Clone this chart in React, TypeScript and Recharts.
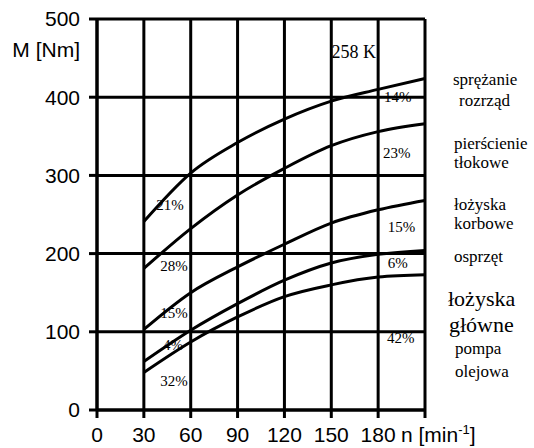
import React from 'react';
import { LineChart, Line, XAxis, YAxis, CartesianGrid, ReferenceDot } from 'recharts';

// rotational speed n [min-1]
const rpm = [30, 60, 90, 120, 150, 180, 210];
// friction torque M [Nm] per component (cumulative curves)
const sprezanieRozrzad = [241, 303, 342, 372, 395, 410, 424];
const pierscienieTlokowe = [181, 232, 275, 309, 338, 356, 366];
const lozyskaKorbowe = [103, 150, 183, 212, 239, 256, 268];
const osprzet = [62, 102, 136, 166, 188, 199, 204];
const lozyskaGlowne = [48, 87, 119, 145, 160, 170, 173];

const xTicks = [0, 30, 60, 90, 120, 150, 180, 210];
const yTicks = [0, 100, 200, 300, 400, 500];

// percentage labels inside the plot [n, M, text]
const leftShares: [number, number, string][] = [
  [46.7, 263, '21%'],
  [49.3, 184, '28%'],
  [49.3, 125, '15%'],
  [48.6, 84, '4%'],
  [49.3, 38, '32%'],
];
const rightShares: [number, number, string][] = [
  [192.5, 401, '14%'],
  [191.9, 329, '23%'],
  [195, 234, '15%'],
  [192.5, 188, '6%'],
  [194.5, 93, '42%'],
];

// legend texts on the right [x, baseline, text, size]
const legendTexts: [number, number, string, number][] = [
  [453, 85, 'sprężanie', 17],
  [459, 106, 'rozrząd', 17],
  [454, 149, 'pierścienie', 17],
  [454, 168, 'tłokowe', 17],
  [454, 210, 'łożyska', 17],
  [454, 229, 'korbowe', 17],
  [454, 262, 'osprzęt', 17],
  [448, 306, 'łożyska', 22],
  [449, 332, 'główne', 22],
  [455, 354, 'pompa', 17],
  [455, 377, 'olejowa', 17],
];

const data = rpm.map((n, i) => ({
  n,
  a: sprezanieRozrzad[i],
  b: pierscienieTlokowe[i],
  c: lozyskaKorbowe[i],
  d: osprzet[i],
  e: lozyskaGlowne[i],
}));

const sans = '"Liberation Sans", Arial, sans-serif';
const serif = '"Liberation Serif", "Times New Roman", serif';

const XTick = ({ x, y, payload }: any) => {
  if (payload.value === 210) {
    return (
      <text x={x - 24} y={y} dy="0.71em" textAnchor="start" fill="#000" fontSize={21} fontFamily={sans}>
        n [min
        <tspan fontSize={13} dy={-8}>-1</tspan>
        <tspan dy={8}>]</tspan>
      </text>
    );
  }
  return (
    <text x={x} y={y} dy="0.71em" textAnchor="middle" fill="#000" fontSize={21} fontFamily={sans}>
      {payload.value}
    </text>
  );
};

export default function App() {
  const lines = ['a', 'b', 'c', 'd', 'e'];
  return (
    <div style={{ position: 'relative', width: 534, height: 448, background: '#fff' }}>
      <style>{'body{margin:0}'}</style>
      <LineChart width={534} height={448} data={data} margin={{ top: 19, right: 109, left: 0, bottom: 0 }}>
        <CartesianGrid stroke="#000" strokeWidth={3} />
        <XAxis
          type="number"
          dataKey="n"
          domain={[0, 210]}
          ticks={xTicks}
          height={38}
          tickSize={8}
          tickMargin={9}
          axisLine={{ stroke: '#000', strokeWidth: 3 }}
          tickLine={{ stroke: '#000', strokeWidth: 3 }}
          tick={<XTick />}
          interval={0}
        />
        <YAxis
          type="number"
          domain={[0, 500]}
          ticks={yTicks}
          width={97}
          tickSize={8}
          tickMargin={9}
          axisLine={{ stroke: '#000', strokeWidth: 3 }}
          tickLine={{ stroke: '#000', strokeWidth: 3 }}
          tick={{ fill: '#000', fontSize: 21, fontFamily: sans }}
          interval={0}
        />
        {[...leftShares, ...rightShares].map(([x, y, t], i) => (
          <ReferenceDot
            key={'s' + i}
            x={x}
            y={y}
            r={0}
            stroke="none"
            label={{ value: t, position: 'center', fill: '#000', fontSize: 15, fontFamily: serif }}
          />
        ))}
        <ReferenceDot
          x={164.4}
          y={458}
          r={0}
          stroke="none"
          label={{ value: '258 K', position: 'center', fill: '#000', fontSize: 18, fontFamily: serif }}
        />
        {lines.map((k) => (
          <Line
            key={k}
            type="monotone"
            dataKey={k}
            stroke="#000"
            strokeWidth={3}
            dot={false}
            isAnimationActive={false}
          />
        ))}
      </LineChart>
      <svg width={534} height={448} style={{ position: 'absolute', left: 0, top: 0, pointerEvents: 'none' }}>
        <text x={80} y={57} textAnchor="end" fill="#000" fontSize={21} fontFamily={sans}>
          M [Nm]
        </text>
        {legendTexts.map(([x, y, t, s], i) => (
          <text key={i} x={x} y={y} fill="#000" fontSize={s} fontFamily={serif}>
            {t}
          </text>
        ))}
      </svg>
    </div>
  );
}
